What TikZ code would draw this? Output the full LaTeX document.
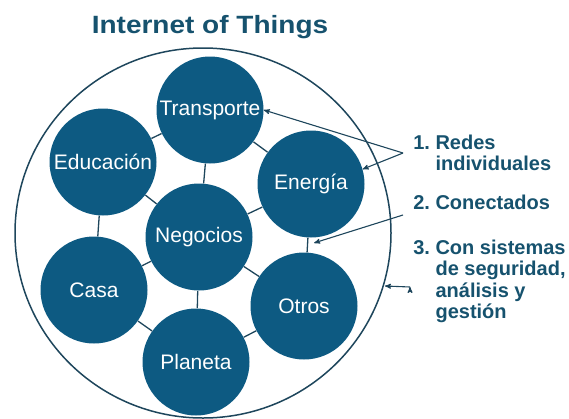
\documentclass[tikz,border=0pt]{standalone}
\usepackage{fontspec}
\setmainfont{Liberation Sans}
\usepackage{xcolor}
\usetikzlibrary{shapes.geometric, arrows}
\definecolor{iotblue}{RGB}{13,90,130}
\definecolor{iottext}{RGB}{22,82,110}
\definecolor{iotline}{RGB}{30,70,92}

\begin{document}
\begin{tikzpicture}[>=stealth',semithick,x=1pt,y=-1pt]
		\tikzstyle{topic}=[circle,fill=iotblue,text=white,minimum size=107pt,inner sep=0pt,font=\fontsize{21}{24}\selectfont]
		\tikzstyle{link}=[draw=iotline,line width=1.3pt]
		\tikzstyle{pointer}=[->,draw=iotline,line width=1.1pt]
		\tikzstyle{note}=[anchor=base west,inner sep=0pt,text=iottext,font=\fontsize{20}{21.5}\selectfont\bfseries]
		\useasboundingbox (0,0) rectangle (569,418);
		\node[anchor=base,text=iottext,font=\fontsize{25}{30}\selectfont\bfseries] (T) at (210,33) {\scalebox{1.12}[1]{Internet of Things}};
		\node[ellipse,draw=iotline,line width=1.5pt,minimum width=376pt,minimum height=370pt] (R) at (203,233) {};
		\node[topic]    (Tr) at (210,110)  {Transporte};
		\node[topic]    (Ed) at (103,162)  {Educación};
		\node[topic]    (En) at (311,184)  {Energía};
		\node[topic]    (Ne) at (199,237)  {Negocios};
		\node[topic]    (Ca) at (94,290)   {Casa};
		\node[topic]    (Ot) at (304,306)  {Otros};
		\node[topic]    (Pl) at (196,362)  {Planeta};
		\path[link]
		(Tr) edge (Ed)
		(Tr) edge (En)
		(Tr) edge (Ne)
		(Ed) edge (Ne)
		(Ed) edge (Ca)
		(Ne) edge (En)
		(Ne) edge (Ca)
		(Ne) edge (Ot)
		(Ne) edge (Pl)
		(En) edge (Ot)
		(Ca) edge (Pl)
		(Pl) edge (Ot);
		\node[note] (N1) at (413,149) {\begin{tabular}[t]{@{}l@{\ }l@{}}1. & Redes\\ & individuales\end{tabular}};
		\node[note] (N2) at (413,209) {\begin{tabular}[t]{@{}l@{\ }l@{}}2. & Conectados\end{tabular}};
		\node[note] (N3) at (413,254) {\begin{tabular}[t]{@{}l@{\ }l@{}}3. & Con sistemas\\ & de seguridad,\\ & análisis y\\ & gestión\end{tabular}};
		\coordinate (F1) at (403,153);
		\coordinate (F2) at (403,215);
		\coordinate (F3) at (410,287);
		\coordinate (G3) at (385,286);
		\path (En) -- coordinate[midway] (EO) (Ot);
		\path[pointer]
		(F1) edge (Tr.east)
		(F1) edge (En.16)
		(F2) edge[shorten >=7pt] (EO)
		(F3) edge (G3);
	\end{tikzpicture}
\end{document}
